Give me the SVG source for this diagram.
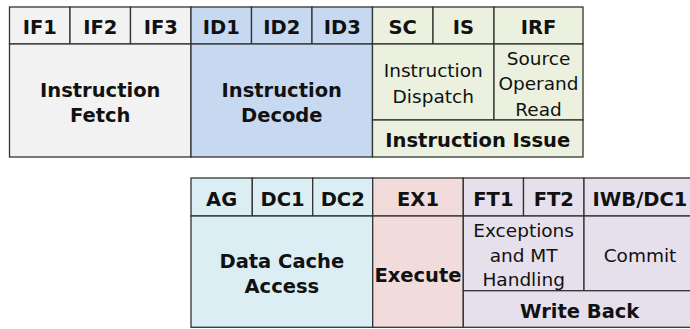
<svg xmlns="http://www.w3.org/2000/svg" width="690" height="329" viewBox="0 0 690 329">
  <style>
    rect { stroke: #333333; stroke-width: 1.3; }
    text { font-family: "DejaVu Sans", Verdana, sans-serif; fill: #111111; text-anchor: middle; }
    .b { font-weight: bold; font-size: 19.5px; }
    .r { font-size: 18.5px; }
    .fetch { fill: #f2f2f2; }
    .decode { fill: #c6d9f1; }
    .issue { fill: #ebf1de; }
    .dcache { fill: #dbeef4; }
    .exec { fill: #f2dcdb; }
    .wb { fill: #e6e0ec; }
  </style>

  <!-- Front end: fetch, decode, issue -->
  <g id="fetch">
    <rect class="fetch" x="9.5" y="7" width="60.5" height="37"/>
    <rect class="fetch" x="70" y="7" width="60.5" height="37"/>
    <rect class="fetch" x="130.5" y="7" width="60.5" height="37"/>
    <rect class="fetch" x="9.5" y="44" width="181.5" height="113"/>
    <text class="b" x="39.75" y="34">IF1</text>
    <text class="b" x="100.25" y="34">IF2</text>
    <text class="b" x="160.75" y="34">IF3</text>
    <text class="b" x="100.25" y="97">Instruction</text>
    <text class="b" x="100.25" y="121.5">Fetch</text>
  </g>

  <g id="decode">
    <rect class="decode" x="191" y="7" width="60.5" height="37"/>
    <rect class="decode" x="251.5" y="7" width="60.5" height="37"/>
    <rect class="decode" x="312" y="7" width="60.5" height="37"/>
    <rect class="decode" x="191" y="44" width="181.5" height="113"/>
    <text class="b" x="221.25" y="34">ID1</text>
    <text class="b" x="281.75" y="34">ID2</text>
    <text class="b" x="342.25" y="34">ID3</text>
    <text class="b" x="281.75" y="97">Instruction</text>
    <text class="b" x="281.75" y="121.5">Decode</text>
  </g>

  <g id="issue">
    <rect class="issue" x="372.5" y="7" width="60.5" height="37"/>
    <rect class="issue" x="433" y="7" width="61" height="37"/>
    <rect class="issue" x="494" y="7" width="89" height="37"/>
    <rect class="issue" x="372.5" y="44" width="121.5" height="76"/>
    <rect class="issue" x="494" y="44" width="89" height="76"/>
    <rect class="issue" x="372.5" y="120" width="210.5" height="37"/>
    <text class="b" x="402.75" y="34">SC</text>
    <text class="b" x="463.5" y="34">IS</text>
    <text class="b" x="538.5" y="34">IRF</text>
    <text class="r" x="433.25" y="77.3">Instruction</text>
    <text class="r" x="433.25" y="103.3">Dispatch</text>
    <text class="r" x="538.5" y="65">Source</text>
    <text class="r" x="538.5" y="90">Operand</text>
    <text class="r" x="538.5" y="116">Read</text>
    <text class="b" x="477.75" y="146.7">Instruction Issue</text>
  </g>

  <!-- Back end: data cache, execute, write back -->
  <g id="dcache">
    <rect class="dcache" x="191" y="178" width="61.3" height="38"/>
    <rect class="dcache" x="252.3" y="178" width="60.4" height="38"/>
    <rect class="dcache" x="312.7" y="178" width="60" height="38"/>
    <rect class="dcache" x="191" y="216" width="181.7" height="111.3"/>
    <text class="b" x="221.65" y="205.5">AG</text>
    <text class="b" x="282.5" y="205.5">DC1</text>
    <text class="b" x="342.7" y="205.5">DC2</text>
    <text class="b" x="281.85" y="267.7">Data Cache</text>
    <text class="b" x="281.85" y="293.3">Access</text>
  </g>

  <g id="execute">
    <rect class="exec" x="372.7" y="178" width="90.6" height="38"/>
    <rect class="exec" x="372.7" y="216" width="90.6" height="111.3"/>
    <text class="b" x="418" y="205.5">EX1</text>
    <text class="b" x="418" y="281.7">Execute</text>
  </g>

  <g id="writeback">
    <rect class="wb" x="463.3" y="178" width="60.2" height="38"/>
    <rect class="wb" x="523.5" y="178" width="60.5" height="38"/>
    <rect class="wb" x="584" y="178" width="112" height="38"/>
    <rect class="wb" x="463.3" y="216" width="120.7" height="74.7"/>
    <rect class="wb" x="584" y="216" width="112" height="74.7"/>
    <rect class="wb" x="463.3" y="290.7" width="232.7" height="36.6"/>
    <text class="b" x="493.4" y="205.5">FT1</text>
    <text class="b" x="553.75" y="205.5">FT2</text>
    <text class="b" x="640" y="205.5">IWB/DC1</text>
    <text class="r" x="523.65" y="236.7">Exceptions</text>
    <text class="r" x="523.65" y="262.3">and MT</text>
    <text class="r" x="523.65" y="286">Handling</text>
    <text class="r" x="640" y="262.3">Commit</text>
    <text class="b" x="579.65" y="318.3">Write Back</text>
  </g>
</svg>
